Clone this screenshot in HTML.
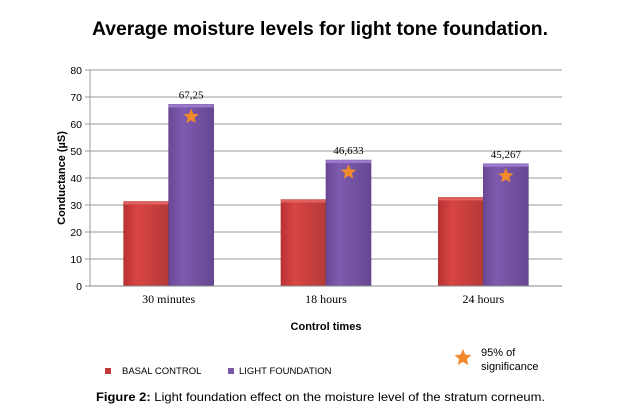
<!DOCTYPE html>
<html><head><meta charset="utf-8"><style>
html,body{margin:0;padding:0;background:#fff;}
svg{display:block;}
</style></head><body>
<svg id="chart" width="625" height="414" viewBox="0 0 625 414" xmlns="http://www.w3.org/2000/svg">
<defs>
<linearGradient id="gr" x1="0" y1="0" x2="1" y2="0"><stop offset="0" stop-color="#b83232"/><stop offset="0.3" stop-color="#d94444"/><stop offset="1" stop-color="#b33a36"/></linearGradient>
<linearGradient id="gp" x1="0" y1="0" x2="1" y2="0"><stop offset="0" stop-color="#6a4896"/><stop offset="0.3" stop-color="#7f5bae"/><stop offset="1" stop-color="#664792"/></linearGradient>
</defs>
<text x="320" y="35" text-anchor="middle" font-family="Liberation Sans, sans-serif" font-weight="bold" font-size="19" textLength="456" lengthAdjust="spacingAndGlyphs">Average moisture levels for light tone foundation.</text>
<g id="grid"></g>
<g id="bars"></g>
<text transform="translate(65,178) rotate(-90)" text-anchor="middle" font-family="Liberation Sans, sans-serif" font-weight="bold" font-size="11">Conductance (µS)</text>
<text x="326" y="330" text-anchor="middle" font-family="Liberation Sans, sans-serif" font-weight="bold" font-size="11">Control times</text>
<g font-family="Liberation Sans, sans-serif" font-size="9.5">
<rect x="105" y="368" width="6" height="6" fill="#c43a3a"/>
<text x="122" y="374">BASAL CONTROL</text>
<rect x="228" y="368" width="6" height="6" fill="#7a58a8"/>
<text x="239" y="374">LIGHT FOUNDATION</text>
<polygon fill="#f08a2c" points="463,349 465.4,354.6 471.5,355.1 466.9,359.1 468.3,365 463,361.9 457.7,365 459.1,359.1 454.5,355.1 460.6,354.6"/>
<text font-size="11" x="481" y="356">95% of</text>
<text font-size="11" x="481" y="370">significance</text>
</g>
<text x="96" y="401" font-family="Liberation Sans, sans-serif" font-size="12" textLength="449" lengthAdjust="spacingAndGlyphs"><tspan font-weight="bold">Figure 2:</tspan> Light foundation effect on the moisture level of the stratum corneum.</text>
</svg>
<script>
const categories = ["30 minutes", "18 hours", "24 hours"];
const basalValues = [31.3, 32.0, 32.8];
const lightValues = [67.25, 46.633, 45.267];
const lightLabels = ["67,25", "46,633", "45,267"];
const yTicks = [0, 10, 20, 30, 40, 50, 60, 70, 80];

const NS = "http://www.w3.org/2000/svg";
const X0 = 90, X1 = 562, Y0 = 286, Y1 = 70, YMAX = 80;
const yScale = v => Y0 - (v / YMAX) * (Y0 - Y1);
const band = (X1 - X0) / categories.length;
const xCenter = i => X0 + band * (i + 0.5);
const BW = 45;
function mk(tag, attrs, parent) {
  const e = document.createElementNS(NS, tag);
  for (const k in attrs) e.setAttribute(k, attrs[k]);
  parent.appendChild(e);
  return e;
}
const grid = document.getElementById("grid");
const bars = document.getElementById("bars");
mk("line", {x1: X0, y1: Y1, x2: X0, y2: Y0, stroke: "#999", "stroke-width": 1}, grid);
yTicks.forEach(t => {
  const y = yScale(t);
  const l = mk("line", {x1: X0 - 5, y1: y, x2: X1, y2: y, stroke: "#999", "stroke-width": 1}, grid);
  
  
  const tx = mk("text", {x: 82, y: y + 4, "text-anchor": "end", "font-family": "Liberation Sans, sans-serif", "font-size": 10.5}, grid);
  
  
  tx.textContent = t;
});
function star(cx, cy, r, parent) {
  const pts = [];
  for (let k = 0; k < 10; k++) {
    const rr = k % 2 ? r * 0.45 : r;
    const a = -Math.PI / 2 + k * Math.PI / 5;
    pts.push((cx + rr * Math.cos(a)).toFixed(1) + "," + (cy + rr * Math.sin(a)).toFixed(1));
  }
  return mk("polygon", {points: pts.join(" "), fill: "#f08a2c"}, parent);
}
categories.forEach((c, i) => {
  const cx = xCenter(i);
  const yb = yScale(basalValues[i]);
  const rb = mk("rect", {x: cx - BW, y: yb, width: BW, height: Y0 - yb, fill: "url(#gr)", stroke: "#a83030", "stroke-width": 0.6}, bars);
  
  
  const hb = mk("rect", {x: cx - BW, y: yb, width: BW, height: 3, fill: "#e06060"}, bars);
  
  
  const yl = yScale(lightValues[i]);
  const rl = mk("rect", {x: cx, y: yl, width: BW, height: Y0 - yl, fill: "url(#gp)", stroke: "#5e4088", "stroke-width": 0.6}, bars);
  
  
  const hl = mk("rect", {x: cx, y: yl, width: BW, height: 3, fill: "#9a78cc"}, bars);
  
  
  const s = star(cx + BW / 2, yScale(lightValues[i] - 4.5), 8, bars);
  
  
  const vl = mk("text", {x: cx + BW / 2, y: yl - 6, "text-anchor": "middle", "font-family": "Liberation Serif, serif", "font-size": 11}, bars);
  
  
  vl.textContent = lightLabels[i];
  const xl = mk("text", {x: cx, y: 303, "text-anchor": "middle", "font-family": "Liberation Serif, serif", "font-size": 12}, bars);
  
  
  xl.textContent = c;
});
mk("line", {x1: X0, y1: Y0, x2: X1, y2: Y0, stroke: "#888", "stroke-width": 1}, bars);
</script>
</body></html>
